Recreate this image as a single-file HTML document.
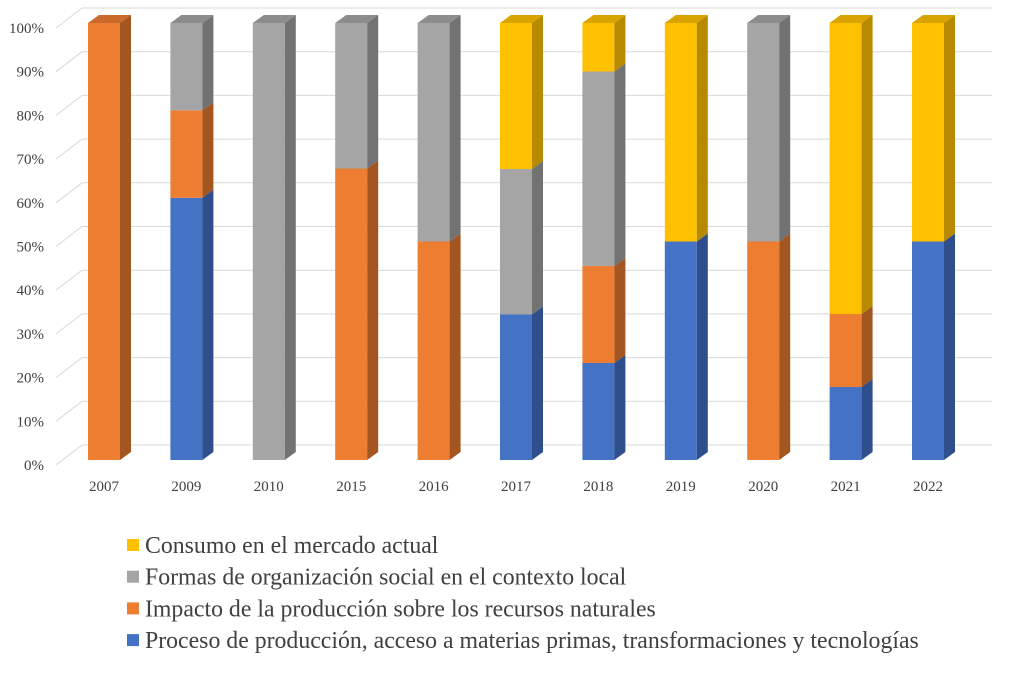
<!DOCTYPE html>
<html><head><meta charset="utf-8"><style>
html,body{margin:0;padding:0;background:#fff;}
svg{display:block;font-family:"Liberation Serif",serif;}
</style></head><body>
<svg id="chart" width="1009" height="674" viewBox="0 0 1009 674">
<g id="grid"></g>
<g id="yaxis"></g>
<g id="bars"></g>
<g id="xaxis"></g>
<g id="legend"></g>
</svg>
<script>
const categories=["2007","2009","2010","2015","2016","2017","2018","2019","2020","2021","2022"];
const proceso=[0,60,0,0,0,33.3,22.2,50,0,16.7,50];
const impacto=[100,20,0,66.7,50,0,22.2,0,50,16.7,0];
const formas=[0,20,100,33.3,50,33.3,44.5,0,50,0,0];
const consumo=[0,0,0,0,0,33.4,11.1,50,0,66.6,50];
const yTicks=["0%","10%","20%","30%","40%","50%","60%","70%","80%","90%","100%"];
const seriesNames=["Proceso de producción, acceso a materias primas, transformaciones y tecnologías","Impacto de la producción sobre los recursos naturales","Formas de organización social en el contexto local","Consumo en el mercado actual"];

const NS="http://www.w3.org/2000/svg";
function mk(tag,attrs,parent){const e=document.createElementNS(NS,tag);for(const k in attrs)e.setAttribute(k,attrs[k]);parent.appendChild(e);return e;}
const y0=460,y100=23,DX=11,DY=-8;
function yS(v){return y0-(y0-y100)*v/100;}
const x0=104,step=82.4,bw=32;
function xC(i){return x0+step*i;}
const colors=[["#4472C4","#2E4F8C","#3A62AA"],["#ED7D31","#A3561F","#C9692A"],["#A5A5A5","#727272","#8C8C8C"],["#FFC000","#B88A00","#D9A300"]];
const series=[proceso,impacto,formas,consumo];
const grid=document.getElementById('grid'),yaxis=document.getElementById('yaxis'),bars=document.getElementById('bars'),xaxis=document.getElementById('xaxis'),legend=document.getElementById('legend');
yTicks.forEach((t,i)=>{
  const yf=yS(i*10), yb=yf-15;
  const l=mk('line',{x1:82,y1:yb,x2:992,y2:yb,stroke:'#D9D9D9','stroke-width':1},grid);
  
  
  const d=mk('line',{x1:56,y1:yf+5,x2:82,y2:yb,stroke:'#D9D9D9','stroke-width':1},grid);
  
  
  const tx=mk('text',{x:44,y:yf+10,'text-anchor':'end','font-size':15,fill:'#404040'},yaxis);
  tx.textContent=t;
  
  
});
categories.forEach((c,i)=>{
  const xl=xC(i)-bw/2,xr=xl+bw;
  let cum=0;
  const segs=[];
  series.forEach((s,k)=>{const v=s[i];if(v>0){segs.push([cum,cum+v,k]);cum+=v;}});
  segs.forEach(([a,b,k],j)=>{
    const ya=yS(a),yb=yS(b);
    const g=mk('g',{},bars);
    
    
    mk('rect',{x:xl,y:yb,width:bw,height:ya-yb,fill:colors[k][0]},g);
    mk('polygon',{points:`${xr},${ya} ${xr+DX},${ya+DY} ${xr+DX},${yb+DY} ${xr},${yb}`,fill:colors[k][1]},g);
    if(j===segs.length-1){
      mk('polygon',{points:`${xl},${yb} ${xr},${yb} ${xr+DX},${yb+DY} ${xl+DX},${yb+DY}`,fill:colors[k][2]},g);
    }
  });
  const tx=mk('text',{x:xC(i),y:491,'text-anchor':'middle','font-size':15,fill:'#404040'},xaxis);
  tx.textContent=c;
  
  
});
[3,2,1,0].forEach((k,j)=>{
  const y=545+j*31.7;
  const g=mk('g',{},legend);
  
  
  mk('rect',{x:127,y:y-6,width:12,height:12,fill:colors[k][0]},g);
  const t=mk('text',{x:145,y:y+8,'font-size':23.8,fill:'#404040'},g);
  t.textContent=seriesNames[k];
});
</script>
</body></html>
